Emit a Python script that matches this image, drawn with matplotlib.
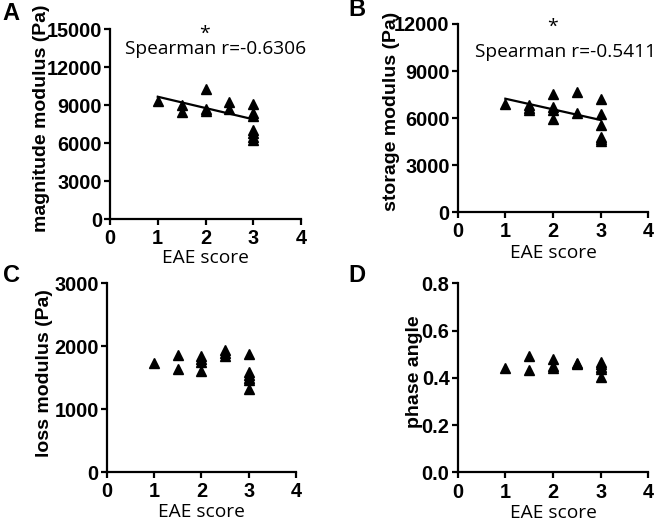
import matplotlib
matplotlib.use("Agg")
import matplotlib.pyplot as plt

# ---------------- data ----------------
a_x = [1, 1.5, 1.5, 2, 2, 2, 2.5, 2.5, 3, 3, 3, 3, 3, 3, 3]
a_y = [9360, 9021, 8492, 10260, 8682, 8548, 9234, 8682, 9076, 8366, 8177, 7048, 6788, 6472, 6259]
a_fit_x = [1, 3]
a_fit_y = [9676, 7893]

b_x = [1, 1.5, 1.5, 1.5, 2, 2, 2, 2, 2.5, 2.5, 3, 3, 3, 3, 3, 3]
b_y = [6922, 6858, 6667, 6501, 7540, 6730, 6520, 5927, 7648, 6310, 7202, 6246, 5564, 4818, 4672, 4544]
b_fit_x = [1, 3]
b_fit_y = [7240, 5883]

c_x = [1, 1.5, 1.5, 2, 2, 2, 2, 2.5, 2.5, 2.5, 3, 3, 3, 3, 3, 3]
c_y = [1741, 1859, 1645, 1837, 1796, 1757, 1604, 1933, 1891, 1837, 1869, 1597, 1545, 1502, 1465, 1316]

d_x = [1, 1.5, 1.5, 2, 2, 2, 2.5, 2.5, 3, 3, 3, 3, 3]
d_y = [0.444, 0.492, 0.432, 0.481, 0.450, 0.441, 0.464, 0.457, 0.467, 0.457, 0.447, 0.437, 0.406]

x_ticks = [0, 1, 2, 3, 4]
a_ticks = [0, 3000, 6000, 9000, 12000, 15000]
b_ticks = [0, 3000, 6000, 9000, 12000]
c_ticks = [0, 1000, 2000, 3000]
d_ticks = [0.0, 0.2, 0.4, 0.6, 0.8]
d_ticklabels = ["0.0", "0.2", "0.4", "0.6", "0.8"]

fig = plt.figure(figsize=(6.61, 5.24), dpi=100)

BOLD = dict(family="Liberation Sans", weight="bold")
REG = dict(family="Open Sans")

def style(ax, yticks, ylabel, ylab_xy, xlab_y, yticklabels=None):
    for s in ["top", "right"]:
        ax.spines[s].set_visible(False)
    for s in ["left", "bottom"]:
        ax.spines[s].set_linewidth(1.6)
    ax.set_xlim(0, 4)
    ax.set_ylim(yticks[0], yticks[-1])
    ax.set_xticks(x_ticks)
    ax.set_yticks(yticks)
    if yticklabels is None:
        yticklabels = [str(t) for t in yticks]
    ax.set_yticklabels(yticklabels)
    ax.set_xticklabels([str(t) for t in x_ticks])
    for lab in ax.get_xticklabels() + ax.get_yticklabels():
        lab.set_fontfamily("Liberation Sans")
        lab.set_fontweight("bold")
        lab.set_fontsize(14.3)
    ax.tick_params(direction="out", length=4.3, width=1.6)
    ax.tick_params(axis="x", pad=3)
    ax.tick_params(axis="y", pad=1.5)
    ax.set_xlabel("EAE score", fontsize=13.8, **REG)
    ax.xaxis.label.set_va("center")
    ax.xaxis.set_label_coords(0.5, xlab_y)
    ax.set_ylabel(ylabel, fontsize=14, **BOLD)
    ax.yaxis.label.set_va("center")
    ax.yaxis.set_label_coords(*ylab_xy)

mk = dict(marker="^", color="black", markersize=6.5, linestyle="none", clip_on=False)

axA = fig.add_axes([0.1664, 0.5815, 0.289, 0.3626])
axA.plot(a_x, a_y, **mk)
axA.plot(a_fit_x, a_fit_y, color="black", linewidth=1.6)
style(axA, a_ticks, "magnitude modulus (Pa)", (-0.356, 0.53), -0.205)
axA.text(1.99, 14650, "*", ha="center", va="center", fontsize=14, **REG)
axA.text(2.22, 13440, "Spearman r=-0.6306", ha="center", va="center", fontsize=13.8, **REG)

axB = fig.add_axes([0.6924, 0.5948, 0.2884, 0.3594])
axB.plot(b_x, b_y, **mk)
axB.plot(b_fit_x, b_fit_y, color="black", linewidth=1.6)
style(axB, b_ticks, "storage modulus (Pa)", (-0.346, 0.534), -0.218)
axB.text(1.99, 11800, "*", ha="center", va="center", fontsize=14, **REG)
axB.text(2.27, 10217, "Spearman r=-0.5411", ha="center", va="center", fontsize=13.8, **REG)

axC = fig.add_axes([0.1614, 0.0992, 0.2864, 0.3601])
axC.plot(c_x, c_y, **mk)
style(axC, c_ticks, "loss modulus (Pa)", (-0.326, 0.527), -0.21)

axD = fig.add_axes([0.6924, 0.0985, 0.2884, 0.3605])
axD.plot(d_x, d_y, **mk)
style(axD, d_ticks, "phase angle", (-0.224, 0.532), -0.217, yticklabels=d_ticklabels)

fig.text(0.004, 0.974, "A", fontsize=17, va="center", ha="left", **BOLD)
fig.text(0.527, 0.981, "B", fontsize=17, va="center", ha="left", **BOLD)
fig.text(0.004, 0.475, "C", fontsize=17, va="center", ha="left", **BOLD)
fig.text(0.527, 0.475, "D", fontsize=17, va="center", ha="left", **BOLD)

fig.savefig("out.png", dpi=100)
